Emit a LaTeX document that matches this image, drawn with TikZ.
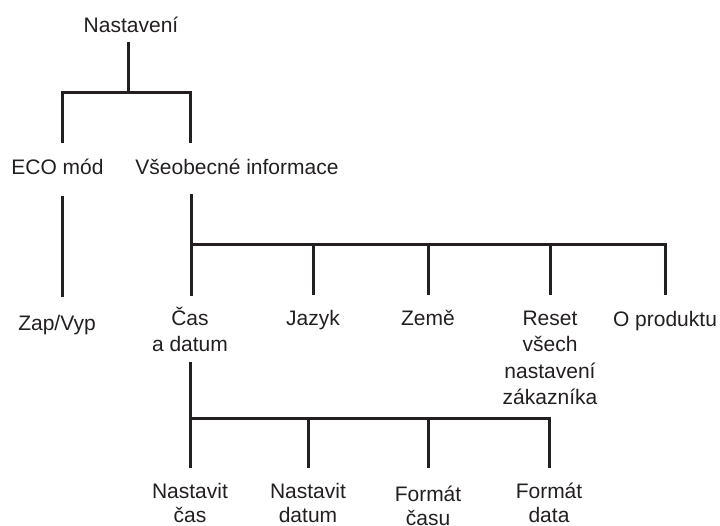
\documentclass[tikz,border=0pt]{standalone}
\usepackage{fontspec}
\setmainfont{Liberation Sans}
\definecolor{ink}{HTML}{231F20}
\begin{document}
\begin{tikzpicture}[x=1pt,y=-1pt,
  lbl/.style={anchor=base,inner sep=0pt,align=center,text=ink,
    font=\fontsize{21}{26.5}\selectfont},
  lblb/.style={lbl,font=\fontsize{21}{24.5}\selectfont},
  conn/.style={draw=ink,line width=3pt}]
\useasboundingbox (0,0) rectangle (720,525);
% nodes (anchor = baseline of the last line)
\node[lbl] (root) at (131,32) {Nastavení};
\node[lbl] (eco) at (57.5,174) {ECO mód};
\node[lbl] (vi) at (237,174) {Všeobecné informace};
\node[lbl] (zap) at (57,330) {Zap/Vyp};
\node[lbl] (cas) at (190,351.5) {Čas\\a datum};
\node[lbl] (jaz) at (313,325) {Jazyk};
\node[lbl] (zeme) at (428,325) {Země};
\node[lbl] (reset) at (550,404.5) {Reset\\všech\\nastavení\\zákazníka};
\node[lbl] (opr) at (665,326) {O produktu};
\node[lblb] (ncas) at (190,522.5) {Nastavit\\čas};
\node[lblb] (ndat) at (308,522.5) {Nastavit\\datum};
\node[lblb] (fcas) at (428,525.5) {Formát\\času};
\node[lblb] (fdat) at (549,522.5) {Formát\\data};
% connector points
\coordinate (r0) at (128,42);
\coordinate (r1) at (128,92);
\coordinate (e0) at (62,143);
\coordinate (v0) at (190,143);
\coordinate (e1) at (62,196);
\coordinate (z0) at (62,297);
\coordinate (v1) at (191,194);
\coordinate (c0) at (191,296);
\coordinate (h1) at (191,244);
\coordinate (j0) at (313,295);
\coordinate (m0) at (428,295);
\coordinate (s0) at (550,295);
\coordinate (o0) at (665,295);
\coordinate (c1) at (190,362);
\coordinate (k0) at (190,468);
\coordinate (h2) at (190,418);
\coordinate (d0) at (308,468);
\coordinate (f0) at (428,468);
\coordinate (g0) at (549,468);
% connectors
\draw[conn] (r0) -- (r1);
\draw[conn] (e0) |- (r1) -| (v0);
\draw[conn] (e1) -- (z0);
\draw[conn] (v1) -- (c0);
\draw[conn] (h1) -| (o0);
\draw[conn] (h1) -| (j0);
\draw[conn] (h1) -| (m0);
\draw[conn] (h1) -| (s0);
\draw[conn] (c1) -- (k0);
\draw[conn] (h2) -| (g0);
\draw[conn] (h2) -| (d0);
\draw[conn] (h2) -| (f0);
\end{tikzpicture}
\end{document}
